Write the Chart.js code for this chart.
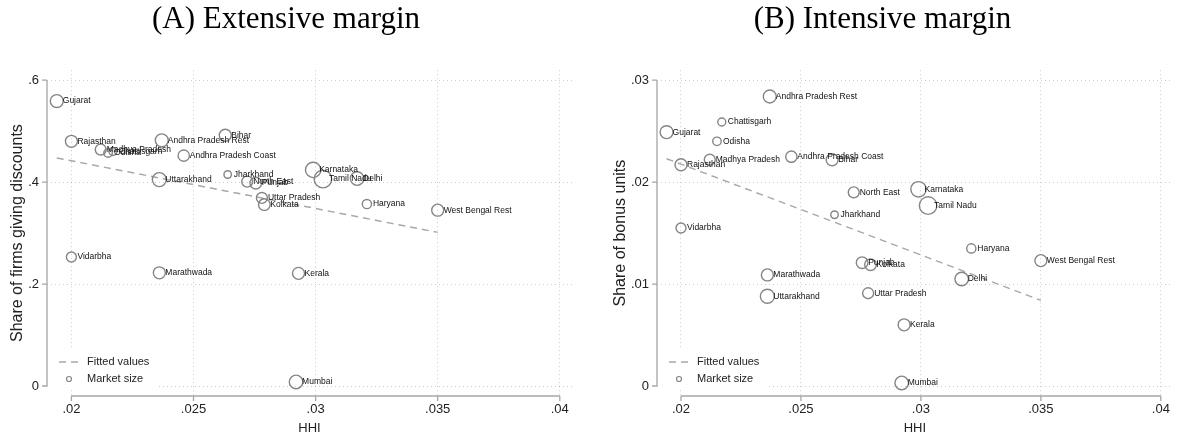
<!DOCTYPE html>
<html>
<head>
<meta charset="utf-8">
<script src="https://cdn.jsdelivr.net/npm/chart.js@4.4.0/dist/chart.umd.min.js"></script>
<style>
  body { margin: 0; background: #fff; }
  .panel { position: absolute; top: 0; height: 438px; }
</style>
</head>
<body>
<div class="panel" style="left:0;width:590px"><canvas id="chartA" width="590" height="438"></canvas></div>
<div class="panel" style="left:590px;width:593px"><canvas id="chartB" width="593" height="438"></canvas></div>
<script>
const markets = ['Gujarat', 'Rajasthan', 'Madhya Pradesh', 'Odisha', 'Chattisgarh', 'Andhra Pradesh Rest',
  'Bihar', 'Andhra Pradesh Coast', 'Uttarakhand', 'Jharkhand', 'North East', 'Punjab', 'Uttar Pradesh',
  'Kolkata', 'Karnataka', 'Tamil Nadu', 'Delhi', 'Haryana', 'West Bengal Rest', 'Kerala', 'Mumbai',
  'Vidarbha', 'Marathwada'];
const hhi = [0.0194, 0.0200, 0.0212, 0.0215, 0.0217, 0.0237, 0.0263, 0.0246, 0.0236, 0.0264, 0.0272, 0.02755,
  0.0278, 0.0279, 0.0299, 0.0303, 0.0317, 0.0321, 0.0350, 0.0293, 0.0292, 0.0200, 0.0236];
const shareDiscount = [0.559, 0.480, 0.464, 0.457, 0.460, 0.482, 0.492, 0.452, 0.405, 0.415, 0.401, 0.398,
  0.369, 0.356, 0.424, 0.406, 0.407, 0.357, 0.345, 0.221, 0.008, 0.253, 0.222];
const shareBonus = [0.0249, 0.0217, 0.0222, 0.0240, 0.0259, 0.0284, 0.0222, 0.0225, 0.0088, 0.0168, 0.0190, 0.0121,
  0.0091, 0.0119, 0.0193, 0.0177, 0.0105, 0.0135, 0.0123, 0.0060, 0.0003, 0.0155, 0.0109];
const marketSize = [42, 36, 30, 18, 16, 42, 36, 32, 49, 14, 30, 34, 30, 34, 59, 77, 46, 21, 36, 36, 46, 25, 36];

// fitted values (lfit) read at both ends
const fitHHI = [0.0194, 0.0350];
const fitDiscount = [0.4475, 0.3014];
const fitBonus = [0.0223, 0.0084];

const xTicks = [0.02, 0.025, 0.03, 0.035, 0.04];
const xTickLabels = ['.02', '.025', '.03', '.035', '.04'];
const yTicksA = [0, 0.2, 0.4, 0.6];
const yTickLabelsA = ['0', '.2', '.4', '.6'];
const yTicksB = [0, 0.01, 0.02, 0.03];
const yTickLabelsB = ['0', '.01', '.02', '.03'];

Chart.defaults.font.family = '"Liberation Sans", Arial, sans-serif';
Chart.defaults.color = '#222';

const axisColor = '#a6a6a6';
const markerColor = '#858585';
const gridColor = 'rgba(0,0,0,0.2)';

// axis lines only span the tick range, like Stata
const stataAxes = {
  id: 'stataAxes',
  afterDraw(chart, args, opts) {
    const ctx = chart.ctx, a = chart.chartArea;
    const xs = chart.scales.x, ys = chart.scales.y;
    ctx.save();
    ctx.strokeStyle = axisColor;
    ctx.lineWidth = 1.3;
    ctx.beginPath();
    ctx.moveTo(xs.getPixelForValue(xTicks[0]), a.bottom);
    ctx.lineTo(xs.getPixelForValue(xTicks[xTicks.length - 1]), a.bottom);
    xTicks.forEach(v => {
      const px = xs.getPixelForValue(v);
      ctx.moveTo(px, a.bottom);
      ctx.lineTo(px, a.bottom + 5);
    });
    const yt = opts.yTicks;
    ctx.moveTo(a.left, ys.getPixelForValue(yt[0]));
    ctx.lineTo(a.left, ys.getPixelForValue(yt[yt.length - 1]));
    yt.forEach(v => {
      const py = ys.getPixelForValue(v);
      ctx.moveTo(a.left, py);
      ctx.lineTo(a.left - 5, py);
    });
    ctx.stroke();
    ctx.restore();
  }
};

const pointLabels = {
  id: 'pointLabels',
  afterDatasetsDraw(chart) {
    const ctx = chart.ctx;
    const meta = chart.getDatasetMeta(0);
    ctx.save();
    ctx.font = '8.5px "Liberation Sans", Arial, sans-serif';
    ctx.fillStyle = '#111';
    ctx.textBaseline = 'middle';
    ctx.textAlign = 'left';
    meta.data.forEach((pt, i) => {
      ctx.fillText(markets[i], pt.x + 6, pt.y);
    });
    ctx.restore();
  }
};

const insideLegend = {
  id: 'insideLegend',
  afterDraw(chart) {
    const ctx = chart.ctx, a = chart.chartArea;
    const fit = chart.data.datasets[1], pts = chart.data.datasets[0];
    ctx.save();
    ctx.fillStyle = '#fff';
    ctx.fillRect(a.left + 1, a.bottom - 46, 110, 38);
    const y1 = a.bottom - 34, y2 = a.bottom - 17;
    ctx.strokeStyle = fit.borderColor;
    ctx.lineWidth = fit.borderWidth;
    ctx.setLineDash(fit.borderDash);
    ctx.beginPath();
    ctx.moveTo(a.left + 12, y1);
    ctx.lineTo(a.left + 32, y1);
    ctx.stroke();
    ctx.setLineDash([]);
    ctx.strokeStyle = markerColor;
    ctx.lineWidth = 1.2;
    ctx.beginPath();
    ctx.arc(a.left + 22, y2, 2.5, 0, Math.PI * 2);
    ctx.stroke();
    ctx.font = '11px "Liberation Sans", Arial, sans-serif';
    ctx.fillStyle = '#222';
    ctx.textBaseline = 'middle';
    ctx.fillText(fit.label, a.left + 40, y1);
    ctx.fillText(pts.label, a.left + 40, y2);
    ctx.restore();
  }
};

function makePanel(id, title, yValues, fitValues, yTicks, yTickLabels, yTitle, yMin, yMax, yWidth, yTitlePad, padRight) {
  return new Chart(document.getElementById(id), {
    type: 'scatter',
    data: {
      datasets: [{
        label: 'Market size',
        data: markets.map((m, i) => ({ x: hhi[i], y: yValues[i] })),
        pointRadius: ctx => Math.sqrt(marketSize[ctx.dataIndex]),
        pointBorderColor: markerColor,
        pointBackgroundColor: 'rgba(0,0,0,0)',
        pointBorderWidth: 1.4,
        showLine: false,
        clip: false
      }, {
        type: 'line',
        label: 'Fitted values',
        data: fitHHI.map((x, i) => ({ x: x, y: fitValues[i] })),
        borderColor: '#a8a8a8',
        borderWidth: 1.5,
        borderDash: [7, 5],
        pointRadius: 0,
        fill: false
      }]
    },
    options: {
      responsive: false,
      animation: false,
      layout: { padding: { left: 0, right: padRight, top: 0, bottom: 0 } },
      plugins: {
        legend: { display: false },
        tooltip: { enabled: false },
        title: {
          display: true,
          text: title,
          color: '#000',
          font: { family: '"Liberation Serif", "Times New Roman", serif', size: 31, weight: 'normal' },
          padding: { top: 1, bottom: 32 }
        },
        stataAxes: { yTicks: yTicks }
      },
      scales: {
        x: {
          type: 'linear',
          min: 0.019,
          max: 0.0405,
          afterBuildTicks: s => { s.ticks = xTicks.map(v => ({ value: v })); },
          afterFit: s => { s.height = 42; },
          ticks: { autoSkip: false, maxRotation: 0, padding: 6, font: { size: 13 },
            callback: (v, i) => xTickLabels[i] },
          grid: { color: gridColor, drawTicks: false, borderDash: [1, 3] },
          border: { display: false, dash: [1, 3] },
          title: { display: true, text: 'HHI', font: { size: 13 }, padding: { top: 0, bottom: 2 } }
        },
        y: {
          type: 'linear',
          min: yMin,
          max: yMax,
          afterBuildTicks: s => { s.ticks = yTicks.map(v => ({ value: v })); },
          afterFit: s => { s.width = yWidth; },
          ticks: { autoSkip: false, padding: 8, font: { size: 13 },
            callback: (v, i) => yTickLabels[i] },
          grid: { color: gridColor, drawTicks: false, borderDash: [1, 3] },
          border: { display: false, dash: [1, 3] },
          title: { display: true, text: yTitle, font: { size: 16 }, padding: { top: yTitlePad, bottom: 0 } }
        }
      }
    },
    plugins: [stataAxes, pointLabels, insideLegend]
  });
}

makePanel('chartA', '(A) Extensive margin', shareDiscount, fitDiscount, yTicksA, yTickLabelsA,
  'Share of firms giving discounts', -0.0196, 0.6196, 47, 8, 18);
makePanel('chartB', '(B) Intensive margin', shareBonus, fitBonus, yTicksB, yTickLabelsB,
  'Share of bonus units', -0.00098, 0.03098, 67, 21, 8);
</script>
</body>
</html>
